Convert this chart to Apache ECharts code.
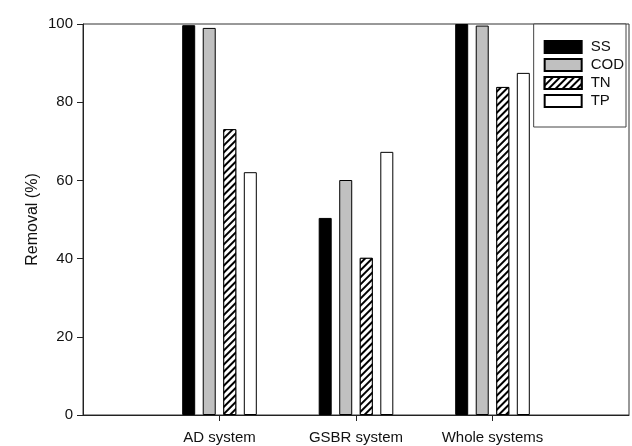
<!DOCTYPE html>
<html><head><meta charset="utf-8">
<script src="https://cdn.jsdelivr.net/npm/echarts@6/dist/echarts.min.js"></script>
<style>html,body{margin:0;padding:0;background:#fff}#c{width:632px;height:446px}</style>
</head><body><div id="c"></div>
<script>
const categories = ['', 'AD system', 'GSBR system', 'Whole systems', ''];
const ss  = [null, 99.7, 50.4, 100, null];
const cod = [null, 99.0, 60.1, 99.6, null];
const tn  = [null, 73.1, 40.2, 83.9, null];
const tp  = [null, 62.1, 67.3, 87.5, null];
const yTicks = [0, 20, 40, 60, 80, 100];

const font = 'Liberation Sans, Arial, sans-serif';
const chart = echarts.init(document.getElementById('c'), null, {renderer: 'canvas'});
const base = {type: 'bar', barWidth: 13, barGap: '58%'};
chart.setOption({
  animation: false,
  grid: {left: 83, right: 1, top: 24, bottom: 31, show: true, borderColor: '#333', borderWidth: 1, backgroundColor: 'transparent'},
  legend: {
    orient: 'vertical', right: 6, top: 24, icon: 'rect',
    itemWidth: 37, itemHeight: 12, itemGap: 2,
    padding: [15, 2, 18, 10],
    backgroundColor: '#fff', borderColor: '#444', borderWidth: 1,
    textStyle: {fontFamily: font, fontSize: 15, color: '#111', padding: [0, 0, 0, 4], lineHeight: 16},
    data: ['SS', 'COD', 'TN', 'TP']
  },
  xAxis: {
    type: 'category', data: categories, boundaryGap: false,
    axisLine: {lineStyle: {color: '#222', width: 1}},
    axisTick: {length: 6, lineStyle: {color: '#222'}, interval: (i) => i > 0 && i < 4},
    axisLabel: {fontFamily: font, fontSize: 15, color: '#111', margin: 15, interval: 0},
    splitLine: {show: false}
  },
  yAxis: {
    type: 'value', min: yTicks[0], max: yTicks[yTicks.length - 1], interval: 20,
    name: 'Removal (%)', nameLocation: 'middle', nameGap: 42, nameMoveOverlap: false,
    nameTextStyle: {fontFamily: font, fontSize: 16, color: '#111'},
    axisLine: {show: true, lineStyle: {color: '#222', width: 1}},
    axisTick: {show: true, length: 6, lineStyle: {color: '#222'}},
    axisLabel: {fontFamily: font, fontSize: 15, color: '#111', margin: 10},
    splitLine: {show: false}
  },
  series: [
    Object.assign({}, base, {name: 'SS', data: ss, itemStyle: {color: '#000', borderColor: '#000', borderWidth: 1}}),
    Object.assign({}, base, {name: 'COD', data: cod, itemStyle: {color: '#c0c0c0', borderColor: '#000', borderWidth: 1}}),
    Object.assign({}, base, {name: 'TN', data: tn, itemStyle: {color: '#fff', borderColor: '#000', borderWidth: 1,
      decal: {symbol: 'rect', symbolSize: 1, color: '#000', backgroundColor: '#fff', dashArrayX: [1, 0], dashArrayY: [2, 2.5], rotation: -Math.PI / 4}}}),
    Object.assign({}, base, {name: 'TP', data: tp, itemStyle: {color: '#fff', borderColor: '#000', borderWidth: 1}})
  ]
});
</script></body></html>
